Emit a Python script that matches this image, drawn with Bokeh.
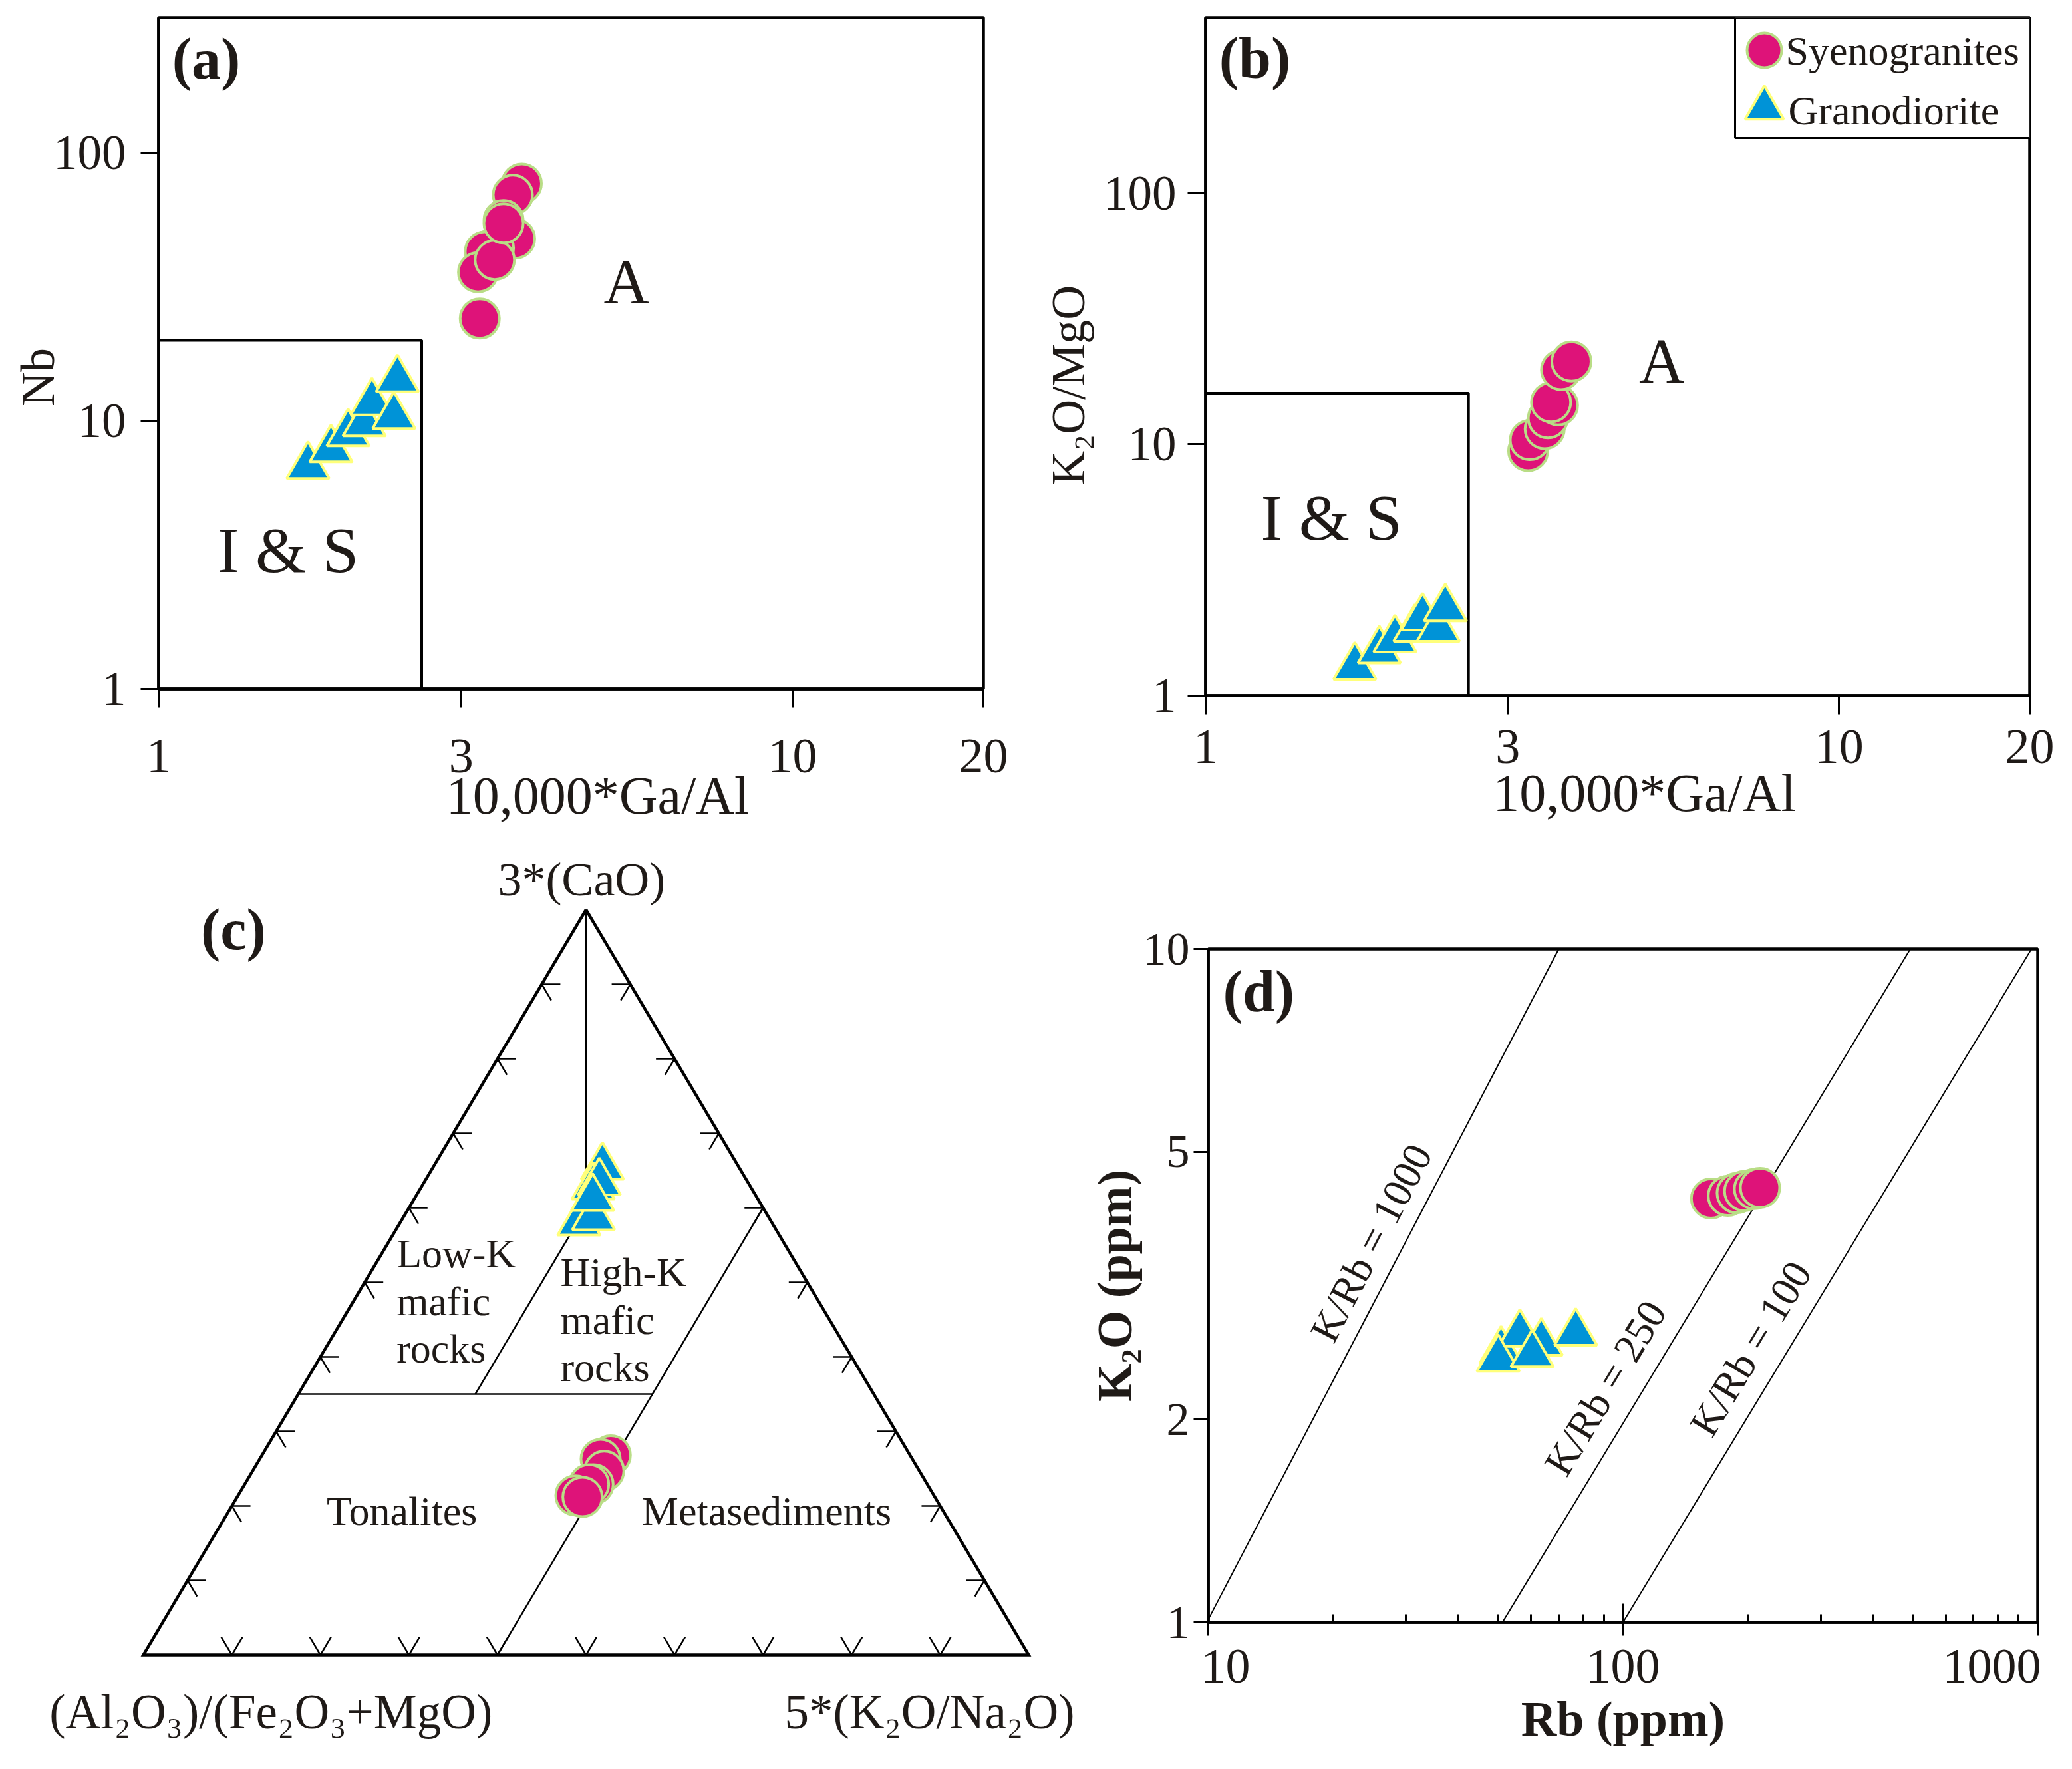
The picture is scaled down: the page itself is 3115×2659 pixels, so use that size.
import numpy as np
from bokeh.plotting import figure
from bokeh.models import Range1d, FixedTicker, PrintfTickFormatter, CustomJSTickFormatter, BoxAnnotation
from bokeh.layouts import column, row
from bokeh.embed import file_html
from bokeh.resources import INLINE
from bokeh.core.properties import value

FONT = "Liberation Serif"
TXT = "#1f1a17"
SYE_FILL = "#DE1379"
SYE_LINE = "#B9DD86"
GRA_FILL = "#0093D7"
GRA_LINE = "#FFFF7A"
SP = "\u2007"   # figure space, used to nudge axis titles off-centre as in the original

# ---------------- data ----------------
# (a) Nb vs 10000*Ga/Al
a_sye_gaal = [3.74, 3.62, 3.50, 3.65, 3.38, 3.27, 3.19, 3.39, 3.50, 3.21]
a_sye_nb = [76.9, 69.8, 56.2, 47.9, 44.2, 42.9, 35.9, 39.9, 54.6, 24.1]
a_gra_gaal = [1.72, 1.87, 1.99, 2.11, 2.17, 2.35, 2.38]
a_gra_nb = [6.78, 7.82, 8.97, 9.77, 11.7, 10.4, 14.3]
a_box_gaal = 2.6
a_box_nb = 20

# (b) K2O/MgO vs 10000*Ga/Al
b_sye_gaal = [3.23, 3.25, 3.43, 3.47, 3.60, 3.51, 3.64, 3.78]
b_sye_k2omgo = [9.40, 10.4, 11.5, 12.7, 14.3, 14.7, 19.8, 21.4]
b_gra_gaal = [1.72, 1.88, 1.99, 2.14, 2.20, 2.33, 2.39]
b_gra_k2omgo = [1.30, 1.51, 1.67, 1.84, 2.04, 1.84, 2.22]
b_box_gaal = 2.6
b_box_k2omgo = 16
legend_names = ["Syenogranites", "Granodiorite"]

# (c) ternary: 3*CaO, Al2O3/(Fe2O3+MgO), 5*(K2O/Na2O) (normalised fractions)
c_gra_cao = [0.655, 0.628, 0.634, 0.580, 0.587, 0.613]
c_gra_afm = [0.154, 0.178, 0.168, 0.218, 0.198, 0.186]
c_gra_kn = [0.191, 0.194, 0.198, 0.202, 0.215, 0.201]
c_sye_cao = [0.268, 0.263, 0.247, 0.229, 0.229, 0.214, 0.212]
c_sye_afm = [0.338, 0.352, 0.356, 0.377, 0.382, 0.405, 0.398]
c_sye_kn = [0.394, 0.385, 0.397, 0.394, 0.389, 0.381, 0.390]
# field boundaries (cao, afm, kn)
c_outer = ([1, 0, 0, 1], [0, 1, 0, 0], [0, 0, 1, 0])
c_lowk_highk = ([1, 0.6, 0.35], [0, 0.2, 0.45], [0, 0.2, 0.2])
c_mafic_base = ([0.35, 0.35], [0.65, 0.25], [0, 0.4])
c_metased = ([0, 0.6], [0.6, 0], [0.4, 0.4])
c_tick_fracs = [0.1, 0.2, 0.3, 0.4, 0.5, 0.6, 0.7, 0.8, 0.9]

# (d) K2O vs Rb
d_sye_rb = [163, 179, 188, 196, 207, 214]
d_sye_k2o = [4.26, 4.30, 4.34, 4.37, 4.40, 4.42]
d_gra_rb = [50.8, 56.4, 63.5, 76.9, 50.0, 60.4]
d_gra_k2o = [2.53, 2.68, 2.60, 2.69, 2.46, 2.50]
d_kr_labels = ["K/Rb = 1000", "K/Rb = 250", "K/Rb = 100"]
d_kr_rb0 = [10, 51.2, 100]
d_kr_k2o0 = [1.01, 1.0, 1.0]
d_kr_rb1 = [70.0, 493, 966]
d_kr_k2o1 = [10, 10, 10]


# ---------------- helpers ----------------
def no_align(p):
    try:
        p.frame_align = False
    except Exception:
        pass


def log_fig(w, h, xr, yr, bl, br, bt, bb):
    p = figure(width=w, height=h, x_axis_type="log", y_axis_type="log",
               x_range=Range1d(*xr), y_range=Range1d(*yr),
               output_backend="svg", toolbar_location=None,
               min_border_left=bl, min_border_right=br,
               min_border_top=bt, min_border_bottom=bb,
               background_fill_color="white", border_fill_color="white")
    no_align(p)
    p.grid.visible = False
    p.outline_line_color = "black"
    p.outline_line_width = 4.5
    p.outline_line_alpha = 1
    for ax in (p.xaxis[0], p.yaxis[0]):
        ax.axis_line_width = 4.5
        ax.major_tick_line_width = 3
        ax.minor_tick_line_width = 3
        ax.major_label_text_font = FONT
        ax.major_label_text_color = TXT
        ax.axis_label_text_font = FONT
        ax.axis_label_text_color = TXT
    return p


def set_axis(ax, ticks, minor, t_in, t_out, m_in, size, standoff, label, lsize, lstand, bold=False):
    ax.ticker = FixedTicker(ticks=ticks, minor_ticks=minor)
    ax.formatter = PrintfTickFormatter(format="%d")
    ax.major_tick_in = t_in
    ax.major_tick_out = t_out
    ax.minor_tick_in = m_in
    ax.minor_tick_out = 0
    ax.major_label_text_font_size = f"{size}px"
    ax.major_label_standoff = standoff
    ax.axis_label = label
    ax.axis_label_text_font_size = f"{lsize}px"
    ax.axis_label_standoff = lstand
    ax.axis_label_text_font_style = "bold" if bold else "normal"


def add_text(p, x, y, text, size, align="center", bold=False, angle=0.0):
    p.text(x=x, y=y, text=text, angle=angle, angle_units="deg",
           text_font=value(FONT), text_font_size=f"{size}px",
           text_font_style="bold" if bold else "normal",
           text_align=align, text_baseline="middle", text_color=TXT)


def sye(p, x, y, size=59):
    return p.scatter(x, y, marker="circle", size=size, fill_color=SYE_FILL,
                     line_color=SYE_LINE, line_width=4)


def gra(p, x, y, size=64):
    return p.scatter(x, y, marker="triangle", size=size, fill_color=GRA_FILL,
                     line_color=GRA_LINE, line_width=4)


ROW1_H = 1270
ROW2_H = 1387

# ---------------- (a) ----------------
pa = log_fig(1560, ROW1_H, (1, 20), (1, 320), 238, 82, 26, ROW1_H - 1035)
set_axis(pa.xaxis[0], [1, 3, 10, 20], [], 0, 28, 0, 74, 48, SP * 2 + "10,000*Ga/Al", 80, -12)
set_axis(pa.yaxis[0], [1, 10, 100], [], 0, 27, 0, 73, 22, "Nb" + SP * 2, 72, -20)
pa.line(x=[1, a_box_gaal, a_box_gaal], y=[a_box_nb, a_box_nb, 1], line_color="black", line_width=4)
add_text(pa, [1.05], [224], ["(a)"], 88, align="left", bold=True)
add_text(pa, [5.47], [33], ["A"], 95)
add_text(pa, [1.60], [3.3], ["I & S"], 98)
gra(pa, a_gra_gaal, a_gra_nb)
sye(pa, a_sye_gaal, a_sye_nb)

# ---------------- (b) ----------------
B_XR, B_YR = (1, 20), (1, 500)
B_FW, B_FH = 1239, 1019   # frame size in px
pb = log_fig(1545, ROW1_H, B_XR, B_YR, 252, 54, 26, ROW1_H - 1045)
set_axis(pb.xaxis[0], [1, 3, 10, 20], [], 0, 28, 0, 74, 24, SP * 2 + "10,000*Ga/Al", 80, -2)
set_axis(pb.yaxis[0], [1, 10, 100], [], 0, 27, 0, 73, 17, "K\u2082O/MgO" + SP * 2 + "\u2009", 72, 10)
pb.line(x=[1, b_box_gaal, b_box_gaal], y=[b_box_k2omgo, b_box_k2omgo, 1], line_color="black", line_width=4)
add_text(pb, [1.05], [345], ["(b)"], 88, align="left", bold=True)
add_text(pb, [5.25], [21.4], ["A"], 95)
add_text(pb, [1.58], [5.1], ["I & S"], 98)
sye(pb, b_sye_gaal, b_sye_k2omgo)
gra(pb, b_gra_gaal, b_gra_k2omgo)


# legend box placed by pixel offsets from the frame's top-left corner
def bx(px):
    return 10 ** (np.log10(B_XR[1]) * px / B_FW)


def by(py):
    return 10 ** (np.log10(B_YR[1]) * (1 - py / B_FH))


pb.add_layout(BoxAnnotation(left=bx(796), right=bx(B_FW), top=by(0), bottom=by(181),
                            fill_color="white", fill_alpha=1, line_color="black",
                            line_width=3, line_alpha=1, level="underlay"))
pb.scatter([bx(840)], [by(49)], marker="circle", size=52, fill_color=SYE_FILL,
           line_color=SYE_LINE, line_width=4)
pb.scatter([bx(840)], [by(136)], marker="triangle", size=58, fill_color=GRA_FILL,
           line_color=GRA_LINE, line_width=4)
pb.text(x=[bx(872), bx(876)], y=[by(49), by(139)], text=legend_names,
        text_font=value(FONT), text_font_size="62px", text_align="left",
        text_baseline="middle", text_color=TXT)

# ---------------- (c) ternary ----------------
def tern_xy(cao, afm, kn):
    cao = np.asarray(cao, float); afm = np.asarray(afm, float); kn = np.asarray(kn, float)
    tot = cao + afm + kn
    c = cao / tot
    k = kn / tot
    return k + c / 2.0, c


C_W = 1630
C_BOT = ROW1_H + ROW2_H - 2487   # px from figure bottom to triangle base
pc = figure(width=C_W, height=ROW2_H, x_range=Range1d(-215 / 1331, (C_W - 215) / 1331),
            y_range=Range1d(-C_BOT / 1120, (ROW2_H - C_BOT) / 1120), output_backend="svg",
            toolbar_location=None, x_axis_location=None, y_axis_location=None,
            min_border=0, outline_line_color=None,
            background_fill_color="white", border_fill_color="white")
no_align(pc)
pc.grid.visible = False

for bnd in (c_lowk_highk, c_mafic_base, c_metased):
    lx_, ly_ = tern_xy(*bnd)
    pc.line(lx_, ly_, line_color="black", line_width=2.5)
ox, oy = tern_xy(*c_outer)
pc.line(ox, oy, line_color="black", line_width=4.5, line_join="miter")

# edge ticks, drawn along the two grid directions that enter the triangle
t = np.asarray(c_tick_fracs)
du, dv, dh = 0.012, 0.024, 0.021
dxs, dys = 0.01075, 0.0215
tx0, ty0, tx1, ty1 = [], [], [], []
for f in t:
    # bottom edge (CaO = 0)
    tx0 += [f, f]; ty0 += [0, 0]; tx1 += [f - du, f + du]; ty1 += [dv, dv]
    # left edge (K/N = 0)
    lx, ly = f / 2.0, f
    tx0 += [lx, lx]; ty0 += [ly, ly]; tx1 += [lx + dh, lx + dxs]; ty1 += [ly, ly - dys]
    # right edge (A/FM = 0)
    rx, ry = 1 - f / 2.0, f
    tx0 += [rx, rx]; ty0 += [ry, ry]; tx1 += [rx - dh, rx - dxs]; ty1 += [ry, ry - dys]
pc.segment(tx0, ty0, tx1, ty1, line_color="black", line_width=2.5)

add_text(pc, [0.495], [1.041], ["3*(CaO)"], 72)
add_text(pc, [0.065], [0.973], ["(c)"], 88, align="left", bold=True)
add_text(pc, [0.144], [-0.077], ["(Al\u2082O\u2083)/(Fe\u2082O\u2083+MgO)"], 73)
add_text(pc, [0.888], [-0.077], ["5*(K\u2082O/Na\u2082O)"], 73)
add_text(pc, [0.286, 0.286, 0.286], [0.539, 0.475, 0.411], ["Low-K", "mafic", "rocks"], 62, align="left")
add_text(pc, [0.471, 0.471, 0.471], [0.514, 0.450, 0.386], ["High-K", "mafic", "rocks"], 62, align="left")
add_text(pc, [0.292], [0.193], ["Tonalites"], 62)
add_text(pc, [0.704], [0.193], ["Metasediments"], 62)

gx, gy = tern_xy(c_gra_cao, c_gra_afm, c_gra_kn)
gra(pc, gx, gy)
sx_, sy_ = tern_xy(c_sye_cao, c_sye_afm, c_sye_kn)
sye(pc, sx_, sy_)

# ---------------- (d) ----------------
D_W = 3105 - C_W
pd_ = log_fig(D_W, ROW2_H, (10, 1000), (1, 10), 1816 - C_W, 42, 1426 - ROW1_H,
              ROW1_H + ROW2_H - 2438)
set_axis(pd_.xaxis[0], [10, 100, 1000],
         [20, 30, 40, 50, 60, 70, 80, 90, 200, 300, 400, 500, 600, 700, 800, 900],
         28, 20, 12, 74, 4, "Rb (ppm)", 74, -5, bold=True)
pd_.xaxis[0].formatter = CustomJSTickFormatter(code="""
const v = Math.round(tick);
if (v == 10) { return "\\u2007\\u2009" + "10"; }
if (v == 1000) { return "1000" + "\\u2007"; }
return v.toString();
""")
set_axis(pd_.yaxis[0], [1, 2, 5, 10], [], 0, 22, 0, 70, 6, "K\u2082O (ppm)", 74, -1, bold=True)
pd_.segment(d_kr_rb0, d_kr_k2o0, d_kr_rb1, d_kr_k2o1, line_color="black", line_width=2)
pd_.text(x=[24.7, 90.6, 203], y=[3.66, 2.23, 2.55], text=d_kr_labels, angle=[62.5, 58.8, 58.8],
         angle_units="deg", text_font=value(FONT), text_font_size="62px",
         text_align="center", text_baseline="middle", text_color=TXT)
add_text(pd_, [10.85], [8.64], ["(d)"], 88, align="left", bold=True)
gra(pd_, d_gra_rb, d_gra_k2o)
sye(pd_, d_sye_rb, d_sye_k2o)

layout = column(row(pa, pb), row(pc, pd_))
open("out.html", "w").write(file_html(layout, INLINE))
